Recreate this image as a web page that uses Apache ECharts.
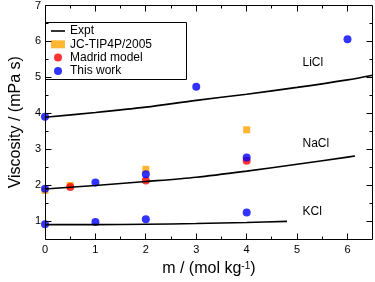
<!DOCTYPE html>
<html>
<head>
<meta charset="utf-8">
<script src="https://cdn.jsdelivr.net/npm/echarts@6/dist/echarts.min.js"></script>
<style>html,body{margin:0;padding:0;background:#fff}#c{width:375px;height:282px}</style>
</head>
<body>
<div id="c"></div>
<script>
// ---- data ----
const xMajorTicks = [0, 1, 2, 3, 4, 5, 6];
const xMinorTicks = [0.5, 1.5, 2.5, 3.5, 4.5, 5.5];
const yMajorTicks = [1, 2, 3, 4, 5, 6, 7];
const yMinorTicks = [1.5, 2.5, 3.5, 4.5, 5.5, 6.5];

const exptLiClX = [0, 1, 2, 3, 4, 5, 6, 6.5];
const exptLiClY = [3.89, 4.02, 4.17, 4.36, 4.53, 4.72, 4.93, 5.06];
const exptNaClX = [0, 1, 2, 3, 4, 5, 6, 6.15];
const exptNaClY = [1.89, 1.99, 2.1, 2.22, 2.39, 2.58, 2.78, 2.81];
const exptKClX = [0, 1, 2, 3, 4, 4.8];
const exptKClY = [0.9, 0.9, 0.91, 0.93, 0.96, 0.99];

const jcX = [0, 0.5, 2, 4];
const jcY = [1.85, 1.99, 2.44, 3.54];
const madridX = [0.5, 2, 4];
const madridY = [1.95, 2.13, 2.68];
const thisWorkX = [0, 3, 6, 0, 1, 2, 4, 0, 1, 2, 4];
const thisWorkY = [3.9, 4.74, 6.06, 1.9, 2.07, 2.3, 2.77, 0.91, 0.97, 1.05, 1.24];

const saltLabels = ['LiCl', 'NaCl', 'KCl'];

const zip = (xs, ys) => xs.map((x, i) => [x, ys[i]]);

const X_MIN = 0, X_MAX = 6.5, Y_MIN = 0.5, Y_MAX = 7;
const chart = echarts.init(document.getElementById('c'));

// frame, inward ticks and legend box drawn through the cartesian coordinate system
function frameRender(params, api) {
  const children = [];
  const seg = (x1, y1, x2, y2) => children.push({
    type: 'line', shape: {x1: x1, y1: y1, x2: x2, y2: y2},
    style: {stroke: '#000', lineWidth: 1, fill: null}
  });
  const crisp = v => Math.floor(v) + 0.5;
  const bl = api.coord([X_MIN, Y_MIN]);
  const tr = api.coord([X_MAX, Y_MAX]);
  const left = crisp(bl[0]), bottom = crisp(bl[1]), right = crisp(tr[0]), top = crisp(tr[1]);
  seg(left, top, right, top);
  seg(right, top, right, bottom);
  seg(right, bottom, left, bottom);
  seg(left, bottom, left, top);
  const xt = (vals, len) => vals.forEach(v => {
    const X = crisp(api.coord([v, Y_MIN])[0]);
    seg(X, bottom, X, bottom - len);
    seg(X, top, X, top + len);
  });
  const yt = (vals, len) => vals.forEach(v => {
    const Y = crisp(api.coord([X_MIN, v])[1]);
    seg(left, Y, left + len, Y);
    seg(right, Y, right - len, Y);
  });
  xt(xMajorTicks, 6); xt(xMinorTicks, 3);
  yt(yMajorTicks, 6); yt(yMinorTicks, 3);
  // legend box
  seg(45.5, 22.5, 186.5, 22.5);
  seg(186.5, 22.5, 186.5, 79.5);
  seg(186.5, 79.5, 45.5, 79.5);
  seg(45.5, 79.5, 45.5, 22.5);
  return {type: 'group', children: children};
}

chart.setOption({
  animation: false,
  textStyle: {fontFamily: 'Liberation Sans'},
  grid: {left: 30, top: 5.5, right: 2.3, bottom: 38.7},
  xAxis: {
    type: 'value', min: X_MIN, max: X_MAX, position: 'bottom',
    axisLine: {show: false, onZero: false}, axisTick: {show: false}, splitLine: {show: false},
    axisLabel: {show: true, customValues: xMajorTicks, color: '#000', fontSize: 11, margin: 5},
    name: 'm / (mol kg{sup|-1})', nameLocation: 'middle', nameGap: 22,
    nameTextStyle: {fontSize: 16, color: '#000', rich: {sup: {fontSize: 10, color: '#000', verticalAlign: 'top'}}}
  },
  yAxis: {
    type: 'value', min: Y_MIN, max: Y_MAX, position: 'left',
    axisLine: {show: false, onZero: false}, axisTick: {show: false}, splitLine: {show: false},
    axisLabel: {show: true, customValues: yMajorTicks, color: '#000', fontSize: 11, margin: 4},
    name: 'Viscosity / (mPa s)', nameLocation: 'middle', nameGap: 12,
    nameTextStyle: {fontSize: 16, color: '#000'}
  },
  legend: {
    orient: 'vertical', left: 46, top: 23,
    borderWidth: 0,
    padding: [2, 32, 2, 5], itemWidth: 14, itemHeight: 8, itemGap: 1.3,
    textStyle: {fontSize: 12, color: '#000', lineHeight: 12},
    selectedMode: false,
    data: [
      {name: 'Expt', icon: 'path://M0,0h14v1.6h-14z'},
      {name: 'JC-TIP4P/2005', icon: 'rect'},
      {name: 'Madrid model', icon: 'circle'},
      {name: 'This work', icon: 'circle'}
    ]
  },
  graphic: saltLabels.map((t, i) => ({
    type: 'text', left: 302.5, top: [56.5, 137.5, 205.5][i],
    style: {text: t, fontSize: 12, fill: '#000'}
  })),
  series: [
    {type: 'custom', renderItem: frameRender, data: [[X_MIN, Y_MIN]], clip: false, silent: true, z: 10},
    {name: 'Expt', type: 'line', data: zip(exptLiClX, exptLiClY), smooth: 0.3, symbol: 'none',
     lineStyle: {color: '#000', width: 1.6}, itemStyle: {color: '#000'}},
    {name: 'Expt', type: 'line', data: zip(exptNaClX, exptNaClY), smooth: 0.3, symbol: 'none',
     lineStyle: {color: '#000', width: 1.6}, itemStyle: {color: '#000'}},
    {name: 'Expt', type: 'line', data: zip(exptKClX, exptKClY), smooth: 0.3, symbol: 'none',
     lineStyle: {color: '#000', width: 1.6}, itemStyle: {color: '#000'}},
    {name: 'JC-TIP4P/2005', type: 'scatter', symbol: 'rect', symbolSize: 7,
     data: zip(jcX, jcY), itemStyle: {color: '#FFA500'}},
    {name: 'Madrid model', type: 'scatter', symbol: 'circle', symbolSize: 8,
     data: zip(madridX, madridY), itemStyle: {color: '#FF0000'}},
    {name: 'This work', type: 'scatter', symbol: 'circle', symbolSize: 8,
     data: zip(thisWorkX, thisWorkY), itemStyle: {color: '#0000FF'}}
  ]
});
</script>
</body>
</html>
